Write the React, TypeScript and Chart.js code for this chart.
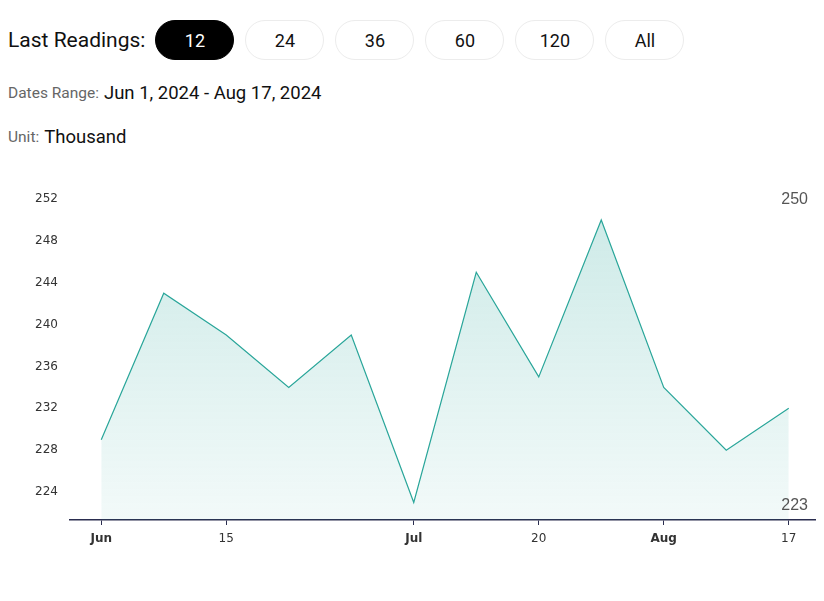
import React, { useEffect, useRef } from "react";
import { Chart, registerables } from "chart.js";

Chart.register(...registerables);

const dates = ["Jun 1", "Jun 8", "Jun 15", "Jun 22", "Jun 29", "Jul 6", "Jul 13", "Jul 20", "Jul 27", "Aug 3", "Aug 10", "Aug 17"];
const values = [229, 243, 239, 234, 239, 223, 245, 235, 250, 234, 228, 232];
const tickLabels = ["Jun", "", "15", "", "", "Jul", "", "20", "", "Aug", "", "17"];
const monthLabels = ["Jun", "Jul", "Aug"];
const yTicks = [224, 228, 232, 236, 240, 244, 248, 252];
const readingOptions = ["12", "24", "36", "60", "120", "All"];

const LINE = "#2aa69a";
const AXIS = "#2a2d4f";

const minMaxPlugin = {
  id: "minMax",
  afterDatasetsDraw(chart: any) {
    const { ctx, chartArea } = chart;
    const data = chart.data.datasets[0].data as number[];
    const max = Math.max(...data);
    const min = Math.min(...data);
    ctx.save();
    ctx.font = "16px 'Liberation Sans', Arial, sans-serif";
    ctx.fillStyle = "#555";
    ctx.textAlign = "right";
    ctx.textBaseline = "middle";
    ctx.fillText(String(max), chartArea.right - 12, chartArea.top + 1);
    ctx.fillText(String(min), chartArea.right - 12, chartArea.bottom - 14);
    ctx.restore();
  },
};

function ChartView() {
  const ref = useRef<HTMLCanvasElement>(null);
  useEffect(() => {
    if (!ref.current) return;
    const chart = new Chart(ref.current, {
      type: "line",
      data: {
        labels: dates,
        datasets: [
          {
            data: values,
            borderColor: LINE,
            borderWidth: 1.2,
            pointRadius: 0,
            tension: 0,
            fill: "start",
            backgroundColor: (c: any) => {
              const { chart } = c;
              const area = chart.chartArea;
              if (!area) return "rgba(42,166,154,0.15)";
              const g = chart.ctx.createLinearGradient(0, area.top, 0, area.bottom);
              g.addColorStop(0, "rgba(42,166,154,0.24)");
              g.addColorStop(1, "rgba(42,166,154,0.06)");
              return g;
            },
          },
        ],
      },
      options: {
        animation: false,
        responsive: false,
        maintainAspectRatio: false,
        layout: { padding: { top: 29, right: 4, left: 0, bottom: 0 } },
        plugins: { legend: { display: false }, tooltip: { enabled: false } },
        scales: {
          x: {
            type: "category",
            offset: true,
            grid: {
              display: true,
              offset: false,
              drawOnChartArea: false,
              drawTicks: true,
              tickLength: 5,
              color: AXIS,
              lineWidth: 1,
            },
            border: { display: true, color: AXIS, width: 1.5 },
            afterBuildTicks: (scale: any) => {
              scale.ticks = scale.ticks.filter((t: any) => tickLabels[t.value] !== "");
            },
            afterFit: (scale: any) => {
              scale.height = 50;
            },
            ticks: {
              autoSkip: false,
              maxRotation: 0,
              padding: 7,
              color: "#333",
              callback: (v: any) => tickLabels[v as number],
              font: (c: any) => {
                const lbl = c.tick ? tickLabels[c.tick.value] : "";
                return {
                  family: "'DejaVu Sans', sans-serif",
                  size: 12,
                  weight: monthLabels.includes(lbl) ? "bold" : "normal",
                };
              },
            },
          },
          y: {
            min: 221.33,
            max: 252,
            grid: { display: false, drawTicks: false },
            border: { display: false },
            afterBuildTicks: (scale: any) => {
              scale.ticks = yTicks.map((v) => ({ value: v }));
            },
            afterFit: (scale: any) => {
              scale.width = 62;
            },
            ticks: {
              padding: 12,
              color: "#333",
              font: { family: "'DejaVu Sans', sans-serif", size: 12 },
            },
          },
        },
      },
      plugins: [minMaxPlugin],
    } as any);
    return () => chart.destroy();
  }, []);
  return <canvas ref={ref} width={816} height={400} style={{ display: "block", width: 816, height: 400 }} />;
}

export default function App() {
  const font = "Roboto, 'Noto Sans', sans-serif";
  return (
    <div style={{ fontFamily: font, color: "#111" }}>
      <div style={{ display: "flex", alignItems: "center", marginTop: 12, height: 40 }}>
        <span style={{ fontSize: 21, marginRight: 10 }}>Last Readings:</span>
        {readingOptions.map((o, i) => (
          <div
            key={o}
            style={{
              width: 79,
              height: 40,
              boxSizing: "border-box",
              borderRadius: 20,
              border: i === 0 ? "1px solid #000" : "1px solid #ececec",
              background: i === 0 ? "#000" : "#fff",
              color: i === 0 ? "#fff" : "#111",
              display: "flex",
              alignItems: "center",
              justifyContent: "center",
              fontSize: 18,
              marginRight: 11,
              flexShrink: 0,
            }}
          >
            {o}
          </div>
        ))}
      </div>
      <div style={{ marginTop: 22, height: 22, display: "flex", alignItems: "center" }}>
        <span style={{ fontSize: 15.5, color: "#666", marginRight: 5 }}>Dates Range:</span>
        <span style={{ fontSize: 18.5 }}>Jun 1, 2024 - Aug 17, 2024</span>
      </div>
      <div style={{ marginTop: 22, height: 22, display: "flex", alignItems: "center" }}>
        <span style={{ fontSize: 15.5, color: "#666", marginRight: 5 }}>Unit:</span>
        <span style={{ fontSize: 18.5 }}>Thousand</span>
      </div>
      <div style={{ marginTop: 22, width: 816 }}>
        <ChartView />
      </div>
    </div>
  );
}
